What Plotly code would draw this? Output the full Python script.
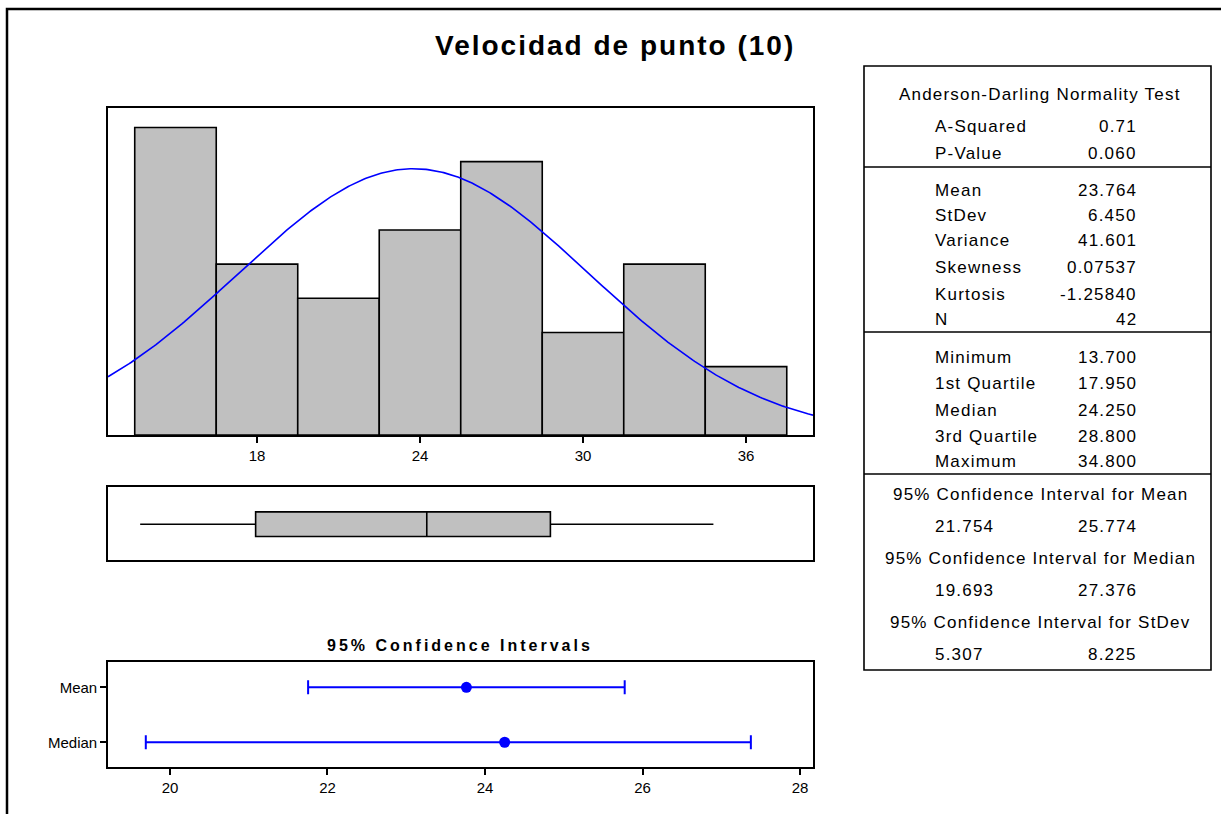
import numpy as np
import plotly.graph_objects as go

W, H = 1221, 814

# Histogram of the sample: bin midpoints and counts
bin_mids = [15, 18, 21, 24, 27, 30, 33, 36]
bin_counts = [9, 5, 4, 6, 8, 3, 5, 2]
bin_width = 3

# Descriptive statistics
n_obs = 42
a_squared = 0.71
p_value = 0.060
mean_val = 23.764
stdev_val = 6.450
variance_val = 41.601
skewness_val = 0.07537
kurtosis_val = -1.25840
min_val = 13.700
q1_val = 17.950
median_val = 24.250
q3_val = 28.800
max_val = 34.800
mean_ci = [21.754, 25.774]
median_ci = [19.693, 27.376]
stdev_ci = [5.307, 8.225]

hist_ticks = [18, 24, 30, 36]
ci_ticks = [20, 22, 24, 26, 28]
ci_rows = ["Mean", "Median"]

FONT = "Liberation Sans, Arial, sans-serif"
BLUE = "#0000FF"
GREY = "#C0C0C0"


def px(x):
    return x / W


def py(y):
    return 1 - y / H


def spaced(text, ls):
    return f'<span style="letter-spacing:{ls}px">{text}</span>'


# x ranges of the panels
hist_range = [12.516, 38.466]
ci_range = [19.213, 28.165]

fig = go.Figure()

# Histogram bars
fig.add_trace(go.Bar(
    x=bin_mids, y=bin_counts, width=bin_width,
    marker=dict(color=GREY, line=dict(color="black", width=1.6)),
    xaxis="x", yaxis="y", hoverinfo="skip",
))

# Fitted normal curve scaled to counts
xc = np.linspace(hist_range[0], hist_range[1], 400)
yc = n_obs * bin_width * np.exp(-0.5 * ((xc - mean_val) / stdev_val) ** 2) / (stdev_val * np.sqrt(2 * np.pi))
fig.add_trace(go.Scatter(
    x=xc, y=yc, mode="lines", line=dict(color=BLUE, width=1.6),
    xaxis="x", yaxis="y", hoverinfo="skip",
))

# Box plot from the quartiles
fig.add_trace(go.Box(
    y=[0], q1=[q1_val], median=[median_val], q3=[q3_val],
    lowerfence=[min_val], upperfence=[max_val], orientation="h",
    width=0.69, whiskerwidth=0, boxpoints=False,
    fillcolor=GREY, line=dict(color="black", width=1.6),
    xaxis="x2", yaxis="y2", hoverinfo="skip",
))

# Confidence intervals for mean and median
ci_centers = [mean_val, median_val]
ci_lows = [mean_ci[0], median_ci[0]]
ci_highs = [mean_ci[1], median_ci[1]]
fig.add_trace(go.Scatter(
    x=ci_centers, y=[1, 0], mode="markers",
    marker=dict(color=BLUE, size=11),
    error_x=dict(type="data", symmetric=False,
                 array=[h - c for h, c in zip(ci_highs, ci_centers)],
                 arrayminus=[c - l for c, l in zip(ci_centers, ci_lows)],
                 color=BLUE, thickness=2, width=7),
    xaxis="x3", yaxis="y3", hoverinfo="skip",
))

x_dom = [px(108), px(813)]
frame = dict(showline=True, mirror=True, linecolor="black", linewidth=1.6,
             showgrid=False, zeroline=False)
tickfont = dict(family=FONT, size=15, color="black")

fig.update_layout(
    width=W, height=H,
    margin=dict(l=0, r=0, t=0, b=0),
    paper_bgcolor="white", plot_bgcolor="white",
    showlegend=False,
    xaxis=dict(domain=x_dom, range=hist_range, anchor="y",
               tickmode="array", tickvals=hist_ticks,
               ticks="outside", ticklen=6, tickwidth=1.6, tickcolor="black",
               tickfont=tickfont, **frame),
    yaxis=dict(domain=[py(435), py(108)], range=[0, 9.57], anchor="x",
               showticklabels=False, ticks="", **frame),
    xaxis2=dict(domain=x_dom, range=hist_range, anchor="y2",
                showticklabels=False, ticks="", **frame),
    yaxis2=dict(domain=[py(560), py(487)], range=[-1.0, 1.04], anchor="x2",
                showticklabels=False, ticks="", **frame),
    xaxis3=dict(domain=x_dom, range=ci_range, anchor="y3",
                tickmode="array", tickvals=ci_ticks,
                ticks="outside", ticklen=6, tickwidth=1.6, tickcolor="black",
                tickfont=tickfont, **frame),
    yaxis3=dict(domain=[py(767), py(662)], range=[-0.45, 1.46], anchor="x3",
                tickmode="array", tickvals=[1, 0], ticktext=ci_rows,
                ticks="outside", ticklen=6, tickwidth=1.6, tickcolor="black",
                tickfont=tickfont, **frame),
)

annotations = []
shapes = []


def text(x, y, s, size=17, anchor="left", bold=False, ls=1.2):
    body = f"<b>{s}</b>" if bold else s
    annotations.append(dict(
        x=px(x), y=py(y), xref="paper", yref="paper",
        text=spaced(body, ls), showarrow=False,
        xanchor=anchor, yanchor="middle",
        font=dict(family=FONT, size=size, color="black"),
    ))


# Titles
text(615, 45, "Velocidad de punto (10)", size=28, anchor="center", bold=True, ls=2)
text(460, 645, "95% Confidence Intervals", size=16, anchor="center", bold=True, ls=3)

# Outer border
shapes.append(dict(type="rect", xref="paper", yref="paper",
                   x0=px(7), x1=px(1240), y0=py(9), y1=py(840),
                   line=dict(color="black", width=2.5)))

# Statistics table frame and dividers
TL, TR = 864, 1211
shapes.append(dict(type="rect", xref="paper", yref="paper",
                   x0=px(TL), x1=px(TR), y0=py(66), y1=py(670),
                   line=dict(color="black", width=1.6)))
for yd in [167, 332, 474]:
    shapes.append(dict(type="line", xref="paper", yref="paper",
                       x0=px(TL), x1=px(TR), y0=py(yd), y1=py(yd),
                       line=dict(color="black", width=1.6)))

LABEL_X, VALUE_X, CENTER_X = 933, 1139, 1040

text(CENTER_X, 95, "Anderson-Darling Normality Test", anchor="center")
ad_rows = [("A-Squared", f"{a_squared:.2f}", 126),
           ("P-Value", f"{p_value:.3f}", 153)]
moment_rows = [("Mean", f"{mean_val:.3f}", 190),
               ("StDev", f"{stdev_val:.3f}", 215),
               ("Variance", f"{variance_val:.3f}", 241),
               ("Skewness", f"{skewness_val:.5f}", 268),
               ("Kurtosis", f"{kurtosis_val:.5f}", 294),
               ("N", f"{n_obs}", 320)]
quant_rows = [("Minimum", f"{min_val:.3f}", 357),
              ("1st Quartile", f"{q1_val:.3f}", 383),
              ("Median", f"{median_val:.3f}", 410),
              ("3rd Quartile", f"{q3_val:.3f}", 436),
              ("Maximum", f"{max_val:.3f}", 461)]
for lab, val, y in ad_rows + moment_rows + quant_rows:
    text(LABEL_X, y, lab)
    text(VALUE_X, y, val, anchor="right")

ci_blocks = [("95% Confidence Interval for Mean", mean_ci, 494),
             ("95% Confidence Interval for Median", median_ci, 558),
             ("95% Confidence Interval for StDev", stdev_ci, 622)]
for title, (lo, hi), y in ci_blocks:
    text(CENTER_X, y, title, anchor="center")
    text(LABEL_X, y + 32, f"{lo:.3f}")
    text(VALUE_X, y + 32, f"{hi:.3f}", anchor="right")

fig.update_layout(annotations=annotations, shapes=shapes)

fig.write_html("out.html")
